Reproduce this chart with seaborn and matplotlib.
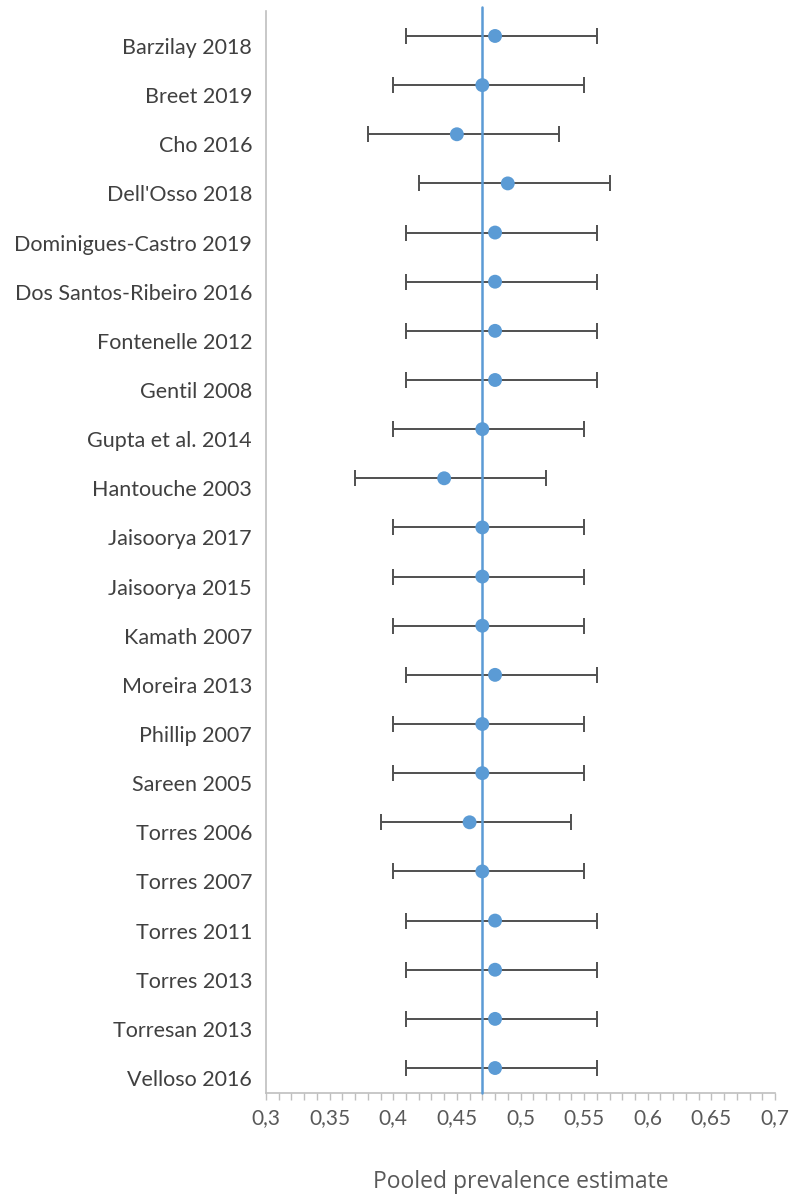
import matplotlib
matplotlib.use("Agg")
import matplotlib.pyplot as plt
import matplotlib.transforms as mtransforms
from matplotlib.ticker import MultipleLocator, FuncFormatter
import seaborn as sns
import pandas as pd

studies = ["Barzilay 2018", "Breet 2019", "Cho 2016", "Dell'Osso 2018",
           "Dominigues-Castro 2019", "Dos Santos-Ribeiro 2016", "Fontenelle 2012",
           "Gentil 2008", "Gupta et al. 2014", "Hantouche 2003", "Jaisoorya 2017",
           "Jaisoorya 2015", "Kamath 2007", "Moreira 2013", "Phillip 2007",
           "Sareen 2005", "Torres 2006", "Torres 2007", "Torres 2011",
           "Torres 2013", "Torresan 2013", "Velloso 2016"]
estimate = [0.48, 0.47, 0.45, 0.49, 0.48, 0.48, 0.48, 0.48, 0.47, 0.44, 0.47,
            0.47, 0.47, 0.48, 0.47, 0.47, 0.46, 0.47, 0.48, 0.48, 0.48, 0.48]
ci_low = [0.41, 0.40, 0.38, 0.42, 0.41, 0.41, 0.41, 0.41, 0.40, 0.37, 0.40,
          0.40, 0.40, 0.41, 0.40, 0.40, 0.39, 0.40, 0.41, 0.41, 0.41, 0.41]
ci_high = [0.56, 0.55, 0.53, 0.57, 0.56, 0.56, 0.56, 0.56, 0.55, 0.52, 0.55,
           0.55, 0.55, 0.56, 0.55, 0.55, 0.54, 0.55, 0.56, 0.56, 0.56, 0.56]
pooled = 0.47
x_ticks = [0.3, 0.35, 0.4, 0.45, 0.5, 0.55, 0.6, 0.65, 0.7]

df = pd.DataFrame({"study": studies, "est": estimate, "lo": ci_low, "hi": ci_high})

sns.set_theme(style="white")
plt.rcParams["font.family"] = ["Lato", "DejaVu Sans"]

blue = "#5B9BD5"
gray_axis = "#BFBFBF"
text_gray = "#595959"

fig = plt.figure(figsize=(7.91, 11.99), dpi=100)
ax = fig.add_axes([266 / 791, 1 - 1092.6 / 1199, (775 - 266) / 791, (1092.6 - 11.4) / 1199])

ypos = list(range(len(studies)))
ax.errorbar(df["est"], ypos,
            xerr=[df["est"] - df["lo"], df["hi"] - df["est"]],
            fmt="none", ecolor="#505050", elinewidth=1.4, capsize=6, capthick=1.4, zorder=2)
ax.axvline(pooled, ymin=0, ymax=1.004, color=blue, lw=1.8, zorder=3, clip_on=False)
sns.scatterplot(x=df["est"], y=ypos, ax=ax, color=blue, s=100, edgecolor="none", zorder=4, legend=False)

ax.set_xlim(0.3, 0.7)
ax.set_ylim(len(studies) - 0.5, -0.5)
ax.set_yticks(ypos)
ax.set_yticklabels(studies, fontsize=15.5, color="#404040")
ax.tick_params(axis="y", length=0, pad=10)
offset = mtransforms.ScaledTranslation(0, -10 / 100, fig.dpi_scale_trans)
for lbl in ax.get_yticklabels():
    lbl.set_transform(lbl.get_transform() + offset)

ax.set_xticks(x_ticks)
ax.xaxis.set_major_formatter(FuncFormatter(lambda v, p: f"{v:g}".replace(".", ",")))
ax.xaxis.set_minor_locator(MultipleLocator(0.01))
ax.tick_params(axis="x", which="both", direction="out", length=5, width=1,
               color=gray_axis, bottom=True, labelsize=15, labelcolor=text_gray, pad=6)

for side in ["top", "right"]:
    ax.spines[side].set_visible(False)
for side in ["left", "bottom"]:
    ax.spines[side].set_color(gray_axis)
    ax.spines[side].set_linewidth(1.2)

ax.set_xlabel("Pooled prevalence estimate", fontsize=16.5, color=text_gray,
              family=["Open Sans", "DejaVu Sans"], labelpad=30)
ax.set_ylabel("")
ax.grid(False)

fig.savefig("out.png", dpi=100)
